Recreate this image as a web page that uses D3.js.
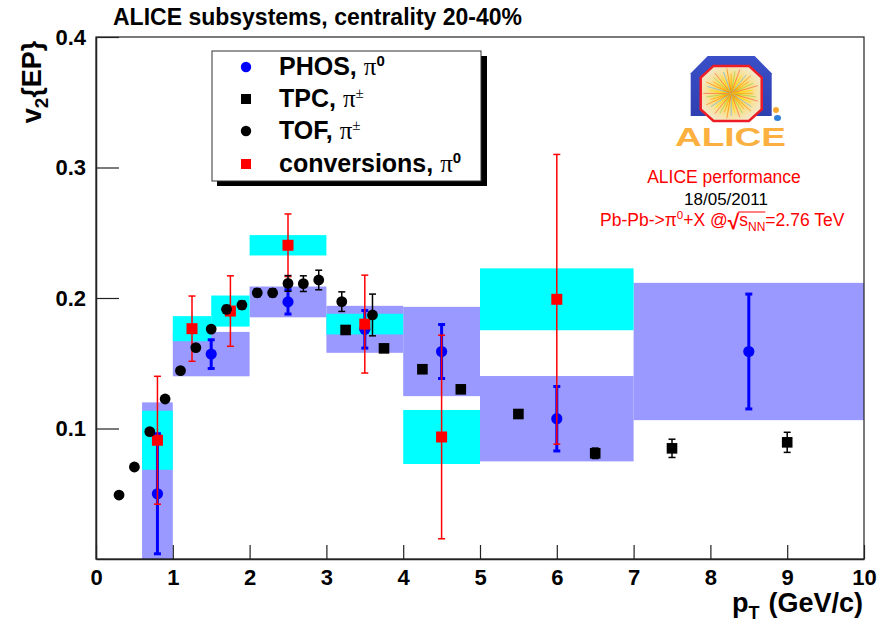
<!DOCTYPE html>
<html><head><meta charset="utf-8">
<script src="https://cdn.jsdelivr.net/npm/d3@7"></script>
<style>body{margin:0;background:#fff} svg{display:block}</style>
</head><body><svg id="c" width="888" height="623"></svg>
<script>
// PHOS pi0: points, statistical errors, systematic boxes (bin edges)
const phosX    = [0.8, 1.5, 2.5, 3.5, 4.5, 6.0, 8.5];
const phosY    = [0.050, 0.157, 0.197, 0.176, 0.159, 0.1075, 0.159];
const phosStat = [0.046, 0.011, 0.0093, 0.0144, 0.0207, 0.0247, 0.044];
const phosSyst = [0.070, 0.017, 0.0118, 0.018, 0.0342, 0.0327, 0.0526];
const phosLo   = [0.6, 1.0, 2.0, 3.0, 4.0, 5.0, 7.0];
const phosHi   = [1.0, 2.0, 3.0, 4.0, 5.0, 7.0, 10.0];

// photon conversions pi0
const convX    = [0.8, 1.25, 1.75, 2.5, 3.5, 4.5, 6.0];
const convY    = [0.091, 0.1765, 0.190, 0.2404, 0.180, 0.0935, 0.199];
const convStat = [0.049, 0.025, 0.027, 0.024, 0.0375, 0.078, 0.111];
const convSyst = [0.0226, 0.0096, 0.0119, 0.0078, 0.0079, 0.0207, 0.0237];
const convLo   = [0.6, 1.0, 1.5, 2.0, 3.0, 4.0, 5.0];
const convHi   = [1.0, 1.5, 2.0, 3.0, 4.0, 5.0, 7.0];

// TOF charged pions
const tofX   = [0.3, 0.5, 0.7, 0.9, 1.1, 1.3, 1.5, 1.7, 1.9, 2.1, 2.3, 2.5, 2.7, 2.9, 3.2, 3.6];
const tofY   = [0.049, 0.0705, 0.0976, 0.1226, 0.1443, 0.162, 0.1762, 0.1913, 0.1946, 0.204, 0.204, 0.2112, 0.211, 0.2138, 0.1972, 0.187];
const tofErr = [0.001, 0.001, 0.001, 0.001, 0.002, 0.002, 0.002, 0.003, 0.003, 0.003, 0.003, 0.006, 0.006, 0.0075, 0.0075, 0.016];

// TPC charged pions
const tpcX   = [3.25, 3.75, 4.25, 4.75, 5.5, 6.5, 7.5, 9.0];
const tpcY   = [0.1755, 0.1614, 0.1454, 0.130, 0.1111, 0.081, 0.0848, 0.0894];
const tpcErr = [0.002, 0.002, 0.003, 0.003, 0.003, 0.004, 0.007, 0.0077];

// axis ticks
const xMajor = d3.range(0, 11, 1);
const xMinor = d3.range(0, 10.001, 0.2);
const yMajor = [0.1, 0.2, 0.3, 0.4];
const yMinor = d3.range(0, 0.4001, 0.02);

const SANS  = "'Liberation Sans', Arial, Helvetica, sans-serif";
const SERIF = "'Liberation Serif', 'Times New Roman', serif";

const svg = d3.select("#c");
const x = d3.scaleLinear([0, 10], [96, 864]);
const y = d3.scaleLinear([0, 0.4], [559, 37]);

// lays out a run of differently styled pieces of text side by side
function textRuns(g, x0, y0, parts, anchor = "start") {
  const grp = g.append("g");
  let cx = 0;
  const placed = [];
  parts.forEach(p => {
    const t = grp.append("text").attr("x", cx).attr("y", p.dy || 0)
      .attr("font-family", p.family || SANS).attr("font-size", p.size)
      .attr("font-weight", p.weight || "normal")
      .attr("fill", p.fill || "#000").text(p.t);
    const w = t.node().getComputedTextLength();
    placed.push({ x: cx, w });
    cx += w + (p.gap || 0);
  });
  const off = anchor === "end" ? -cx : anchor === "middle" ? -cx / 2 : 0;
  grp.attr("transform", `translate(${x0 + off},${y0})`);
  return { grp, placed, width: cx };
}

const defs = svg.append("defs");
defs.append("clipPath").attr("id", "plotClip").append("rect")
  .attr("x", x(0)).attr("y", y(0.4)).attr("width", x(10) - x(0)).attr("height", y(0) - y(0.4));

const plot = svg.append("g").attr("clip-path", "url(#plotClip)");

// systematic uncertainty boxes
function systBoxes(cls, lo, hi, v, s, fill) {
  plot.selectAll("rect." + cls).data(v.map((d, i) => i)).join("rect").attr("class", cls)
    .attr("x", i => x(lo[i])).attr("width", i => x(hi[i]) - x(lo[i]))
    .attr("y", i => y(v[i] + s[i])).attr("height", i => y(v[i] - s[i]) - y(v[i] + s[i]))
    .attr("fill", fill);
}
systBoxes("phosSys", phosLo, phosHi, phosY, phosSyst, "#9999ff");
systBoxes("convSys", convLo, convHi, convY, convSyst, "#00ffff");

// statistical error bars with end caps
function errBars(xs, vs, es, color, lw, cap) {
  const g = plot.append("g").attr("stroke", color).attr("stroke-width", lw);
  xs.forEach((xv, i) => {
    const px = x(xv), top = y(vs[i] + es[i]), bot = y(vs[i] - es[i]);
    g.append("line").attr("x1", px).attr("x2", px).attr("y1", top).attr("y2", bot);
    [top, bot].forEach(py => g.append("line").attr("x1", px - cap).attr("x2", px + cap).attr("y1", py).attr("y2", py));
  });
}

// PHOS
errBars(phosX, phosY, phosStat, "#0000ff", 3, 3.5);
plot.append("g").selectAll("circle").data(phosX).join("circle")
  .attr("cx", d => x(d)).attr("cy", (d, i) => y(phosY[i])).attr("r", 5.6).attr("fill", "#0000ff");

// conversions
errBars(convX, convY, convStat, "#ff0000", 1.5, 3.5);
plot.append("g").selectAll("rect").data(convX).join("rect")
  .attr("x", d => x(d) - 5.5).attr("y", (d, i) => y(convY[i]) - 5.5).attr("width", 11).attr("height", 11)
  .attr("fill", "#ff0000");

// TPC
errBars(tpcX, tpcY, tpcErr, "#000", 1.5, 3.5);
plot.append("g").selectAll("rect").data(tpcX).join("rect")
  .attr("x", d => x(d) - 5.3).attr("y", (d, i) => y(tpcY[i]) - 5.3).attr("width", 10.6).attr("height", 10.6)
  .attr("fill", "#000");

// TOF
errBars(tofX, tofY, tofErr, "#000", 1.5, 3.5);
plot.append("g").selectAll("circle").data(tofX).join("circle")
  .attr("cx", d => x(d)).attr("cy", (d, i) => y(tofY[i])).attr("r", 5.4).attr("fill", "#000");

// frame
svg.append("rect").attr("x", x(0)).attr("y", y(0.4)).attr("width", x(10) - x(0)).attr("height", y(0) - y(0.4))
  .attr("fill", "none").attr("stroke", "#222").attr("stroke-width", 1.2);

// axes with ticks drawn inside the frame
const gx = svg.append("g").attr("transform", `translate(0,${y(0)})`);
gx.call(d3.axisBottom(x).tickValues(xMinor).tickSize(-7).tickFormat(""));
gx.call(d3.axisBottom(x).tickValues(xMajor).tickSizeInner(-14).tickSizeOuter(0).tickPadding(10).tickFormat(d3.format("d")));
gx.selectAll("text").attr("font-family", SANS).attr("font-size", 22).attr("font-weight", "bold").attr("fill", "#000");

const gy = svg.append("g").attr("transform", `translate(${x(0)},0)`);
gy.call(d3.axisLeft(y).tickValues(yMinor).tickSize(-12).tickFormat(""));
gy.call(d3.axisLeft(y).tickValues(yMajor).tickSizeInner(-23).tickSizeOuter(0).tickPadding(10).tickFormat(d3.format(".1f")));
gy.selectAll("text").attr("font-family", SANS).attr("font-size", 22).attr("font-weight", "bold").attr("fill", "#000");
svg.selectAll(".tick line").attr("stroke", "#222").attr("stroke-width", 1.2);
svg.selectAll(".domain").attr("stroke", "#222").attr("stroke-width", 1.5);

// title
svg.append("text").attr("x", 113).attr("y", 25).attr("font-family", SANS).attr("font-size", 23)
  .attr("font-weight", "bold").text("ALICE subsystems, centrality 20-40%");

// axis titles
textRuns(svg, 863, 612, [
  { t: "p", size: 27, weight: "bold" },
  { t: "T", size: 18, weight: "bold", dy: 7, gap: 9 },
  { t: "(GeV/c)", size: 27, weight: "bold" }
], "end");

const yl = svg.append("g").attr("transform", "translate(41,82) rotate(-90)");
textRuns(yl, 0, 0, [
  { t: "v", size: 27, weight: "bold" },
  { t: "2", size: 19, weight: "bold", dy: 7 },
  { t: "{EP}", size: 27, weight: "bold" }
], "middle");

// legend
svg.append("rect").attr("x", 217).attr("y", 56).attr("width", 270).attr("height", 130).attr("fill", "#000");
svg.append("rect").attr("x", 212).attr("y", 51).attr("width", 269).attr("height", 130)
  .attr("fill", "#fff").attr("stroke", "#333").attr("stroke-width", 1);
const legRows = [
  { name: "PHOS,", sup: "0", shape: "circle", color: "#0000ff", yy: 67 },
  { name: "TPC,", sup: "\u00b1", shape: "square", color: "#000", yy: 99 },
  { name: "TOF,", sup: "\u00b1", shape: "circle", color: "#000", yy: 131 },
  { name: "conversions,", sup: "0", shape: "square", color: "#ff0000", yy: 164 }
];
legRows.forEach(r => {
  if (r.shape === "circle") svg.append("circle").attr("cx", 246).attr("cy", r.yy).attr("r", 5.2).attr("fill", r.color);
  else svg.append("rect").attr("x", 241).attr("y", r.yy - 5).attr("width", 10).attr("height", 10).attr("fill", r.color);
  textRuns(svg, 279, r.yy + 8, [
    { t: r.name, size: 25, weight: "bold", gap: 7 },
    { t: "\u03c0", size: 25, family: SERIF },
    { t: r.sup, size: 15, weight: r.sup === "0" ? "bold" : "normal", family: r.sup === "0" ? SANS : SERIF, dy: -9 }
  ]);
});

// ALICE logo
const logo = svg.append("g");
const rg = defs.append("radialGradient").attr("id", "core");
rg.append("stop").attr("offset", "0%").attr("stop-color", "#ffb000");
rg.append("stop").attr("offset", "35%").attr("stop-color", "#ffd84a");
rg.append("stop").attr("offset", "100%").attr("stop-color", "#f4e6c0");
const bg = defs.append("linearGradient").attr("id", "band").attr("x1", 0).attr("y1", 0).attr("x2", 0).attr("y2", 1);
bg.append("stop").attr("offset", "0%").attr("stop-color", "#3a4fc8");
bg.append("stop").attr("offset", "100%").attr("stop-color", "#2a3aa8");
defs.append("clipPath").attr("id", "bandClip").append("rect").attr("x", 680).attr("y", 50).attr("width", 110).attr("height", 66);

function octagon(cx, cy, w, h) {
  const a = w / 2, b = h / 2, ca = a * 0.42, cb = b * 0.42;
  return [[cx - a + ca, cy - b], [cx + a - ca, cy - b], [cx + a, cy - b + cb], [cx + a, cy + b - cb],
          [cx + a - ca, cy + b], [cx - a + ca, cy + b], [cx - a, cy + b - cb], [cx - a, cy - b + cb]];
}
logo.append("polygon").attr("clip-path", "url(#bandClip)")
  .attr("points", octagon(731.2, 97, 81, 82).join(" ")).attr("fill", "url(#band)");
logo.append("polygon").attr("points", octagon(731.2, 93.4, 61, 55).join(" "))
  .attr("fill", "url(#core)").attr("stroke", "#ee1c25").attr("stroke-width", 2.5);
const rays = logo.append("g").attr("stroke-width", 0.8).attr("opacity", 0.8);
const rayColors = ["#ff9a00", "#8fd14f", "#ff5a3c", "#ffd400", "#5fb0ff", "#ff7a00"];
d3.range(0, 360, 9).forEach((ang, k) => {
  const r = ang * Math.PI / 180, len = 22 + (k % 3) * 3;
  rays.append("line").attr("x1", 731.2).attr("y1", 93.4)
    .attr("x2", 731.2 + Math.cos(r) * len).attr("y2", 93.4 + Math.sin(r) * len * 0.9)
    .attr("stroke", rayColors[k % rayColors.length]);
});
logo.append("circle").attr("cx", 776).attr("cy", 110).attr("r", 3).attr("fill", "#f8a830");
logo.append("ellipse").attr("cx", 777.5).attr("cy", 118).attr("rx", 3.5).attr("ry", 3).attr("fill", "#2f7fd8");
logo.append("text").attr("x", 675).attr("y", 145.5).attr("font-family", SANS).attr("font-weight", "bold")
  .attr("font-size", 25).attr("textLength", 111).attr("lengthAdjust", "spacingAndGlyphs")
  .attr("fill", "#fbb040").text("ALICE");

// performance labels
svg.append("text").attr("x", 724).attr("y", 183).attr("text-anchor", "middle").attr("font-family", SANS)
  .attr("font-size", 17.5).attr("fill", "#ff0000").text("ALICE performance");
svg.append("text").attr("x", 726).attr("y", 205).attr("text-anchor", "middle").attr("font-family", SANS)
  .attr("font-size", 17).attr("fill", "#000").text("18/05/2011");
const en = textRuns(svg, 600, 226, [
  { t: "Pb-Pb->\u03c0", size: 17.5, fill: "#ff0000" },
  { t: "0", size: 11.5, fill: "#ff0000", dy: -7 },
  { t: "+X @", size: 17.5, fill: "#ff0000" },
  { t: "\u221a", size: 21, fill: "#ff0000", weight: "bold", dy: 3 },
  { t: "s", size: 17.5, fill: "#ff0000" },
  { t: "NN", size: 12, fill: "#ff0000", dy: 5 },
  { t: "=2.76 TeV", size: 17.5, fill: "#ff0000" }
]);
// overline of the square root
const p3 = en.placed[3], p5 = en.placed[5];
en.grp.append("line").attr("x1", p3.x + p3.w - 1).attr("x2", p5.x + p5.w).attr("y1", -14).attr("y2", -14)
  .attr("stroke", "#ff0000").attr("stroke-width", 1);
</script></body></html>
